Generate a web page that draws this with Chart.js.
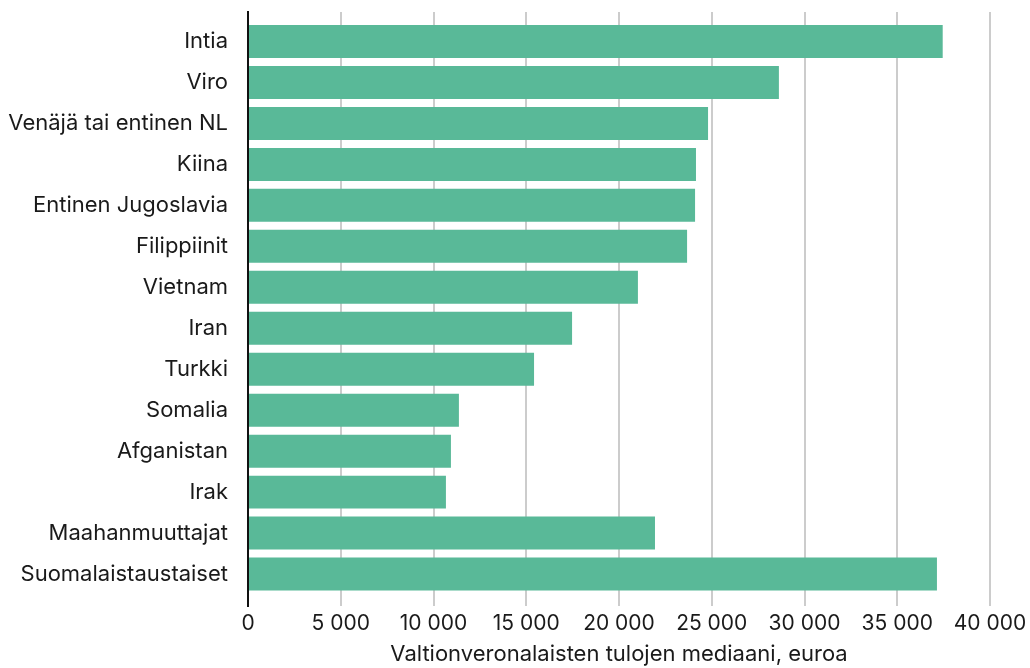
<!DOCTYPE html>
<html>
<head>
<meta charset="utf-8">
<script src="https://cdn.jsdelivr.net/npm/chart.js@4/dist/chart.umd.min.js"></script>
<style>
  html, body { margin: 0; padding: 0; background: #fff; }
  #wrap { width: 1030px; height: 668px; }
</style>
</head>
<body>
<div id="wrap"><canvas id="myChart" width="1030" height="668"></canvas></div>
<script>
// data
var countries = ['Intia', 'Viro', 'Venäjä tai entinen NL', 'Kiina', 'Entinen Jugoslavia',
  'Filippiinit', 'Vietnam', 'Iran', 'Turkki', 'Somalia', 'Afganistan', 'Irak',
  'Maahanmuuttajat', 'Suomalaistaustaiset'];
var medians = [37450, 28620, 24800, 24150, 24100, 23670, 21020, 17470, 15420, 11370, 10940, 10670, 21940, 37140];
var xTicks = [0, 5000, 10000, 15000, 20000, 25000, 30000, 35000, 40000];
var xTitle = 'Valtionveronalaisten tulojen mediaani, euroa';

var barColor = '#59b998';
var fontFam = 'Inter, "Noto Sans", sans-serif';

function fmt(v) {
  return String(v).replace(/\B(?=(\d{3})+(?!\d))/g, ' ');
}

var points = medians.map(function (v, i) { return { x: v, y: i }; });

new Chart(document.getElementById('myChart'), {
  type: 'bar',
  data: {
    datasets: [{
      data: points,
      backgroundColor: barColor,
      borderWidth: 0,
      barPercentage: 0.805,
      categoryPercentage: 1
    }]
  },
  options: {
    indexAxis: 'y',
    responsive: false,
    animation: false,
    layout: { padding: { top: 12, right: 40, left: 0, bottom: 0 } },
    plugins: {
      legend: { display: false },
      tooltip: { enabled: false }
    },
    scales: {
      x: {
        type: 'linear',
        min: 0,
        max: 40000,
        afterBuildTicks: function (scale) {
          scale.ticks = xTicks.map(function (v) { return { value: v }; });
        },
        afterFit: function (scale) {
          scale.height = 62;
          scale.paddingLeft = 0;
          scale.paddingRight = 0;
        },
        ticks: {
          padding: 5,
          color: '#1a1a1a',
          font: { family: fontFam, size: 21 },
          maxRotation: 0,
          callback: function (v) { return fmt(v); }
        },
        grid: { color: '#cccccc', lineWidth: 2, drawTicks: false },
        border: { display: false },
        title: {
          display: true,
          text: xTitle,
          color: '#1a1a1a',
          font: { family: fontFam, size: 22 },
          padding: { top: 6, bottom: 0 }
        }
      },
      y: {
        type: 'linear',
        reverse: true,
        offset: false,
        min: -0.72,
        max: 13.78,
        afterBuildTicks: function (scale) {
          scale.ticks = countries.map(function (c, i) { return { value: i }; });
        },
        afterFit: function (scale) {
          scale.width = 248;
          scale.paddingTop = 0;
          scale.paddingBottom = 0;
        },
        ticks: {
          padding: 20,
          color: '#1a1a1a',
          font: { family: fontFam, size: 22 },
          callback: function (v) { return countries[v]; }
        },
        grid: { display: false, drawTicks: false },
        border: { display: true, color: '#111111', width: 2 }
      }
    }
  }
});
</script>
</body>
</html>
